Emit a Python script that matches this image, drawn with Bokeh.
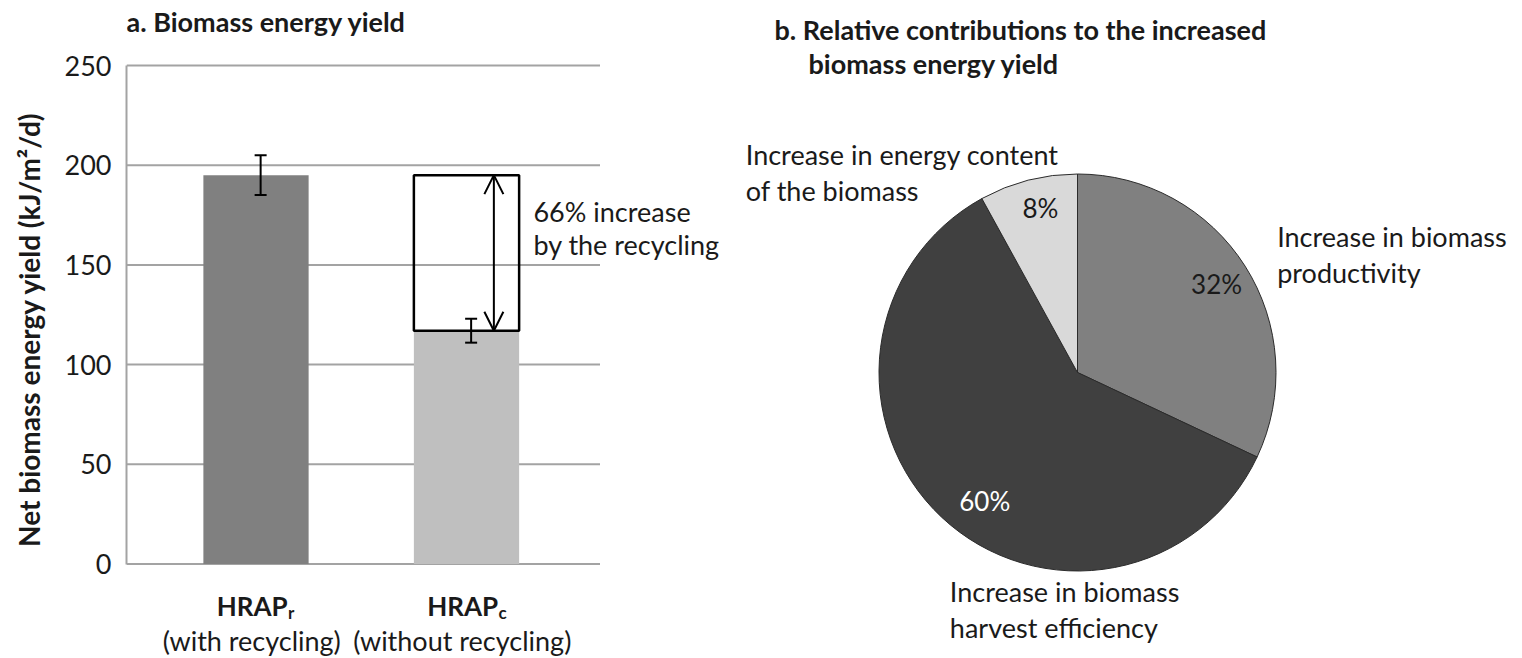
import math
from bokeh.plotting import figure
from bokeh.models import (Range1d, FixedTicker, Label, Whisker, Arrow, OpenHead,
                          TeeHead, ColumnDataSource)
from bokeh.layouts import row
from bokeh.embed import file_html
from bokeh.resources import INLINE
from bokeh.transform import dodge

FONT = "Lato"
TXT = "#1a1a1a"

# ---------------- data ----------------
categories = ["HRAPr", "HRAPc"]
cat_main = ["HRAP", "HRAP"]
cat_sub = ["r", "c"]
cat_desc = ["(with recycling)", "(without recycling)"]
energy_yield = [195, 117]
yield_error = [10, 6]
y_ticks = [0, 50, 100, 150, 200, 250]
increase_note = ["66% increase", "by the recycling"]
title_a = "a. Biomass energy yield"
title_b = ["b. Relative contributions to the increased", "biomass energy yield"]

slice_names = [["Increase in biomass", "productivity"],
               ["Increase in biomass", "harvest efficiency"],
               ["Increase in energy content", "of the biomass"]]
slice_share = [32, 60, 8]

# ---------------- styles ----------------
bar_colors = ["#808080", "#bfbfbf"]
slice_colors = ["#808080", "#404040", "#d9d9d9"]
pct_colors = [TXT, "white", TXT]
GRID = "#a3a3a3"

# ================= panel a =================
H = 658
W1 = 738
LEFT = 126                 # px reserved for the y axis
XPX = 210.5                # px per category step
YPX = 1.994                # px per kJ/m2/d
ZERO_Y = 563.5             # px from top of canvas where y = 0 sits
xpos = [1, 2]
BAR_W = 0.5
x0 = xpos[0] - (255.5 - LEFT) / XPX
x1 = x0 + (W1 - LEFT) / XPX
y0 = -(H - ZERO_Y) / YPX
y1 = y0 + H / YPX
grid_end = xpos[1] + (599.5 - 466) / XPX

p1 = figure(width=W1, height=H, x_range=Range1d(x0, x1), y_range=Range1d(y0, y1),
            output_backend="svg", toolbar_location=None, x_axis_location=None,
            min_border_left=LEFT, min_border_right=0, min_border_top=0, min_border_bottom=0)
p1.outline_line_color = None
p1.grid.visible = False
ya = p1.yaxis[0]
ya.bounds = (y_ticks[0], y_ticks[-1])
ya.ticker = FixedTicker(ticks=y_ticks)
ya.major_tick_line_color = None
ya.minor_tick_line_color = None
ya.major_tick_out = 0
ya.major_label_standoff = 15
ya.axis_line_color = GRID
ya.axis_line_width = 2
ya.major_label_text_font = FONT
ya.major_label_text_font_size = "27px"
ya.major_label_text_color = TXT
ya.axis_label = "Net biomass energy yield (kJ/m\u00b2/d)"
ya.axis_label_text_font = FONT
ya.axis_label_text_font_style = "bold"
ya.axis_label_text_font_size = "28px"
ya.axis_label_text_color = TXT
ya.axis_label_standoff = 16

# horizontal gridlines at the tick values
p1.segment(x0=[x0] * len(y_ticks), x1=[grid_end] * len(y_ticks), y0=y_ticks, y1=y_ticks,
           line_color=GRID, line_width=2)

src_a = ColumnDataSource(dict(x=xpos, top=energy_yield, color=bar_colors,
                              upper=[v + e for v, e in zip(energy_yield, yield_error)],
                              lower=[v - e for v, e in zip(energy_yield, yield_error)]))
p1.vbar(x="x", top="top", width=BAR_W, fill_color="color", line_color=None, source=src_a)

# increase box over the HRAPc bar
p1.quad(left=[xpos[1] - BAR_W / 2], right=[xpos[1] + BAR_W / 2],
        bottom=[energy_yield[1]], top=[energy_yield[0]],
        fill_color=None, line_color="black", line_width=2.5)

p1.add_layout(Whisker(source=src_a, base=dodge("x", 0.022), upper="upper", lower="lower",
                      level="annotation", line_color="black", line_width=2,
                      upper_head=TeeHead(size=12, line_width=2, line_color="black"),
                      lower_head=TeeHead(size=12, line_width=2, line_color="black")))

ax = xpos[1] + 0.13
p1.add_layout(Arrow(x_start=ax, y_start=energy_yield[1], x_end=ax, y_end=energy_yield[0],
                    line_width=2, line_color="black",
                    start=OpenHead(size=19, line_width=2, line_color="black"),
                    end=OpenHead(size=19, line_width=2, line_color="black")))

note_x = xpos[1] + BAR_W / 2 + 0.068
for txt, yy in zip(increase_note, [177, 160]):
    p1.add_layout(Label(x=note_x, y=yy, text=txt, text_font=FONT, text_font_size="27px",
                        text_color=TXT, text_align="left", text_baseline="middle"))

for xc, main, sub, desc in zip(xpos, cat_main, cat_sub, cat_desc):
    p1.add_layout(Label(x=xc + 0.15, y=-21.3, text=main, text_font=FONT, text_font_size="26px",
                        text_font_style="bold", text_color=TXT, text_align="right",
                        text_baseline="middle"))
    p1.add_layout(Label(x=xc + 0.152, y=-24.3, text=sub, text_font=FONT, text_font_size="17px",
                        text_font_style="bold", text_color=TXT, text_align="left",
                        text_baseline="middle"))
    p1.add_layout(Label(x=xc - 0.02, y=-38.5, text=desc, text_font=FONT, text_font_size="27px",
                        text_color=TXT, text_align="center", text_baseline="middle"))

p1.add_layout(Label(x=x0, y=y_ticks[-1] + (65 - 20.6) / YPX, text=title_a, text_font=FONT,
                    text_font_size="27px", text_font_style="bold", text_color=TXT,
                    text_align="left", text_baseline="middle"))

# ================= panel b =================
R_PX = 198.5
W2 = 784
CX, CY = 1077 - W1, 372
p2 = figure(width=W2, height=H,
            x_range=Range1d(-CX / R_PX, (W2 - CX) / R_PX),
            y_range=Range1d(-(H - CY) / R_PX, CY / R_PX),
            output_backend="svg", toolbar_location=None,
            x_axis_location=None, y_axis_location=None, min_border=0)
p2.outline_line_color = None
p2.grid.visible = False

total = float(sum(slice_share))
starts, ends, mids = [], [], []
cum = 0.0
for s in slice_share:
    a0 = 2 * math.pi * cum / total
    cum += s
    a1 = 2 * math.pi * cum / total
    starts.append(math.pi / 2 - a0)
    ends.append(math.pi / 2 - a1)
    mids.append((a0 + a1) / 2)
src_b = ColumnDataSource(dict(start=starts, end=ends, color=slice_colors))
p2.wedge(x=0, y=0, radius=1, start_angle="start", end_angle="end", direction="clock",
         fill_color="color", line_color="#2b2b2b", line_width=1, source=src_b)

# percentage labels: placed inside each slice, near its middle angle
PCT_R = [0.83, 0.80, 0.85]
PCT_ROT = [0.0, -0.13, 0.03]   # small angular nudges (radians) like the original's best-fit
for s, m, c, r, da in zip(slice_share, mids, pct_colors, PCT_R, PCT_ROT):
    a = m + da
    p2.add_layout(Label(x=r * math.sin(a), y=r * math.cos(a), text=f"{s}%",
                        text_font=FONT, text_font_size="26px", text_color=c,
                        text_align="center", text_baseline="middle"))

name_anchor = [(1.006, 0.685), (-0.643, -1.103), (-1.671, 1.098)]
LINE_STEP = 0.18
for lines, (lx, ly) in zip(slice_names, name_anchor):
    for i, t in enumerate(lines):
        p2.add_layout(Label(x=lx, y=ly - i * LINE_STEP, text=t, text_font=FONT,
                            text_font_size="27px", text_color=TXT, text_align="left",
                            text_baseline="middle"))

title_pos = [(-1.5264, 1.727), (-1.355, 1.559)]
for t, (tx, ty) in zip(title_b, title_pos):
    p2.add_layout(Label(x=tx, y=ty, text=t, text_font=FONT, text_font_size="27px",
                        text_font_style="bold", text_color=TXT, text_align="left",
                        text_baseline="middle"))

layout = row(p1, p2, spacing=0)
open("out.html", "w").write(file_html(layout, INLINE))
